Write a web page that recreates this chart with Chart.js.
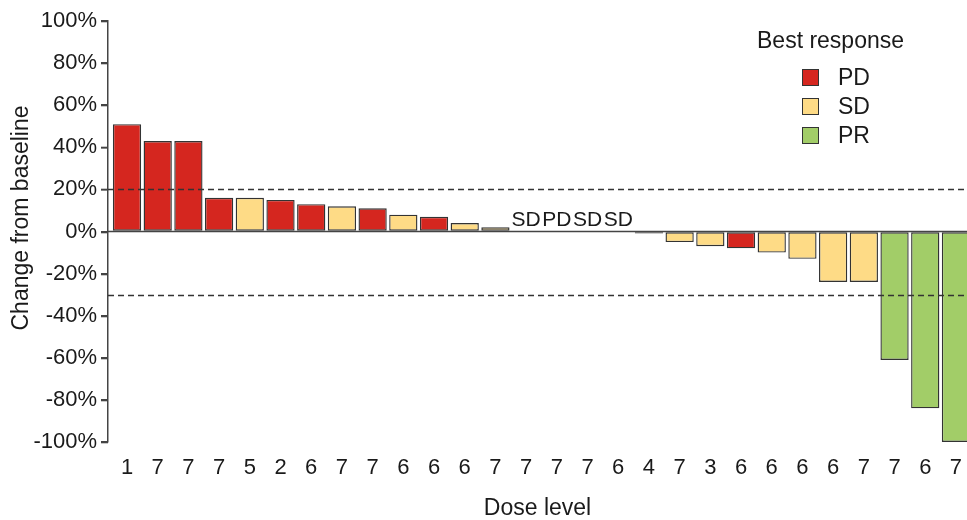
<!DOCTYPE html>
<html>
<head>
<meta charset="utf-8">
<script src="https://cdn.jsdelivr.net/npm/chart.js@4.4.1/dist/chart.umd.min.js"></script>
<style>
  html, body { margin: 0; padding: 0; background: #fff; }
  #wrap { position: relative; width: 967px; height: 520px; overflow: hidden; }
  #legend { position: absolute; left: 0; top: 0; font-family: 'Liberation Sans', Arial, sans-serif; color: #1a1a1a; }
  #legend .title { position: absolute; left: 757px; top: 27px; font-size: 23px; white-space: nowrap; }
  #legend .item { position: absolute; left: 802px; height: 20px; display: flex; align-items: center; font-size: 23px; white-space: nowrap; }
  #legend .box { width: 15px; height: 15px; border: 1px solid #333; margin-right: 19px; }
</style>
</head>
<body>
<div id="wrap">
  <canvas id="waterfall" width="967" height="520"></canvas>
  <div id="legend"></div>
</div>
<script>
// dose level shown under each bar
const doses = ['1','7','7','7','5','2','6','7','7','6','6','6','7','7','7','7','6','4','7','3','6','6','6','6','7','7','6','7'];
// best % change from baseline
const changes = [51, 43, 43, 16, 16, 15, 13, 12, 11, 8, 7, 4, 2, 0, 0, 0, 0, -1, -5, -7, -8, -10, -13, -24, -24, -61, -84, -100];
// best response per patient
const responses = ['PD','PD','PD','PD','SD','PD','PD','SD','PD','SD','PD','SD','SD','SD','PD','SD','SD','PD','SD','SD','PD','SD','SD','SD','SD','PR','PR','PR'];
const yTicks = [100, 80, 60, 40, 20, 0, -20, -40, -60, -80, -100];
const refLines = [20, -30];

const responseColors = { PD: '#d5261f', SD: '#fedb86', PR: '#a2cd68' };
const fontFamily = "'Liberation Sans', Arial, sans-serif";

// lignes horizontales : zéro plein, seuils en pointillés
const refLinePlugin = {
    id: 'refLines',
    beforeDatasetsDraw(chart) {
        const { ctx, chartArea, scales } = chart;
        ctx.save();
        ctx.strokeStyle = '#444';
        ctx.lineWidth = 1.3;
        const y0 = scales.y.getPixelForValue(0);
        ctx.beginPath();
        ctx.moveTo(chartArea.left, y0);
        ctx.lineTo(chartArea.right, y0);
        ctx.stroke();
        ctx.restore();
    },
    afterDatasetsDraw(chart) {
        const { ctx, chartArea, scales } = chart;
        ctx.save();
        ctx.strokeStyle = '#333';
        ctx.lineWidth = 1.3;
        ctx.setLineDash([6, 4]);
        refLines.forEach(v => {
            const y = Math.round(scales.y.getPixelForValue(v)) + 0.5;
            ctx.beginPath();
            ctx.moveTo(chartArea.left, y);
            ctx.lineTo(chartArea.right, y);
            ctx.stroke();
        });
        ctx.restore();

        // étiquettes des barres nulles
        const meta = chart.getDatasetMeta(0);
        ctx.save();
        ctx.fillStyle = '#1a1a1a';
        ctx.font = '21px ' + fontFamily;
        ctx.textAlign = 'center';
        ctx.textBaseline = 'alphabetic';
        changes.forEach((v, i) => {
            if (v === 0) {
                const bar = meta.data[i];
                ctx.fillText(responses[i], bar.x, scales.y.getPixelForValue(0) - 6);
            }
        });
        ctx.restore();
    },
    afterDraw(chart) {
        const { ctx, chartArea, scales } = chart;
        // petits traits de graduation à gauche de l'axe Y
        ctx.save();
        ctx.strokeStyle = '#444';
        ctx.lineWidth = 1.6;
        yTicks.forEach(v => {
            const y = Math.round(scales.y.getPixelForValue(v)) + 0.5;
            ctx.beginPath();
            ctx.moveTo(chartArea.left - 7, y);
            ctx.lineTo(chartArea.left, y);
            ctx.stroke();
        });
        ctx.restore();

        // titre de l'axe Y
        ctx.save();
        ctx.fillStyle = '#1a1a1a';
        ctx.font = '23px ' + fontFamily;
        ctx.textAlign = 'center';
        ctx.textBaseline = 'middle';
        ctx.translate(22, 218);
        ctx.rotate(-Math.PI / 2);
        ctx.fillText('Change from baseline', 0, 0);
        ctx.restore();
    }
};

new Chart(document.getElementById('waterfall').getContext('2d'), {
    type: 'bar',
    data: {
        datasets: [{
            data: changes.map((v, i) => ({ x: i, y: v })),
            backgroundColor: responses.map(r => responseColors[r]),
            borderColor: '#333',
            borderWidth: 1.4,
            borderSkipped: false,
            barPercentage: 0.92,
            categoryPercentage: 1.0
        }]
    },
    options: {
        responsive: false,
        animation: false,
        layout: { padding: { top: 21, right: 0, bottom: 0, left: 0 } },
        plugins: {
            legend: { display: false },
            tooltip: { enabled: false }
        },
        scales: {
            x: {
                type: 'linear',
                offset: false,
                min: -0.619,
                max: 27.36,
                grid: { display: false },
                border: { display: false },
                afterBuildTicks: scale => { scale.ticks = doses.map((d, i) => ({ value: i })); },
                afterFit: scale => {
                    scale.height = 78;
                    scale.paddingLeft = 0;
                    scale.paddingRight = 0;
                },
                ticks: {
                    autoSkip: false,
                    maxRotation: 0,
                    padding: 5,
                    color: '#1a1a1a',
                    font: { family: fontFamily, size: 22 },
                    callback: v => doses[v]
                },
                title: {
                    display: true,
                    text: 'Dose level',
                    color: '#1a1a1a',
                    padding: { top: 0, bottom: -2 },
                    font: { family: fontFamily, size: 23 }
                }
            },
            y: {
                min: -100,
                max: 100,
                afterBuildTicks: scale => { scale.ticks = yTicks.map(v => ({ value: v })); },
                afterFit: scale => { scale.width = 108; },
                grid: { drawOnChartArea: false, drawTicks: true, tickLength: 7, color: '#444', lineWidth: 1.5 },
                border: { display: true, color: '#444', width: 1.5 },
                ticks: {
                    padding: 4,
                    color: '#1a1a1a',
                    font: { family: fontFamily, size: 22 },
                    callback: v => v + '%'
                }
            }
        }
    },
    plugins: [refLinePlugin]
});

// légende en HTML
const legendEl = document.getElementById('legend');
legendEl.innerHTML = '<div class="title">Best response</div>';
['PD', 'SD', 'PR'].forEach((r, k) => {
    const item = document.createElement('div');
    item.className = 'item';
    item.style.top = (67 + k * 29) + 'px';
    item.innerHTML = '<span class="box" style="background:' + responseColors[r] + '"></span>' + r;
    legendEl.appendChild(item);
});
</script>
</body>
</html>
